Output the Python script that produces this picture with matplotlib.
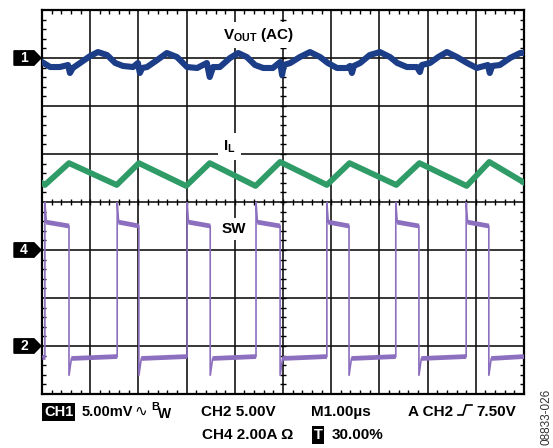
import numpy as np
import matplotlib
matplotlib.use('Agg')
import matplotlib.pyplot as plt
from matplotlib.patches import Polygon
from matplotlib.transforms import blended_transform_factory
from matplotlib.lines import Line2D

# ---------------- scope settings ----------------
ch1_mv_per_div = 5.0     # VOUT (AC)
ch1_offset_div = 3.0
ch2_v_per_div = 5.0      # SW
ch2_offset_div = -3.0
ch4_a_per_div = 2.0      # IL
ch4_offset_div = -1.0
time_per_div_us = 1.0

# ---------------- data ----------------
vout_t = [0.00, 0.17, 0.37, 0.54, 0.58, 0.64, 0.79, 1.00, 1.16, 1.35, 1.52, 1.68, 1.89, 1.99,
          2.03, 2.08, 2.18, 2.39, 2.59, 2.80, 3.01, 3.22, 3.42, 3.48, 3.55, 3.69, 3.90, 4.07,
          4.25, 4.42, 4.59, 4.79, 4.94, 4.98, 5.02, 5.15, 5.35, 5.56, 5.77, 5.93, 6.12, 6.33,
          6.39, 6.43, 6.47, 6.60, 6.80, 7.01, 7.22, 7.37, 7.57, 7.78, 7.84, 7.88, 8.05, 8.22,
          8.40, 8.61, 8.82, 9.02, 9.25, 9.29, 9.34, 9.50, 9.71, 9.92, 10.00]
vout_mv = [-0.42, -0.94, -0.94, -0.73, -1.56, -1.04, -0.52, 0.21, 0.62, 0.31, -0.52, -0.83, -0.94, -0.52,
           -1.56, -1.04, -0.94, -0.21, 0.52, 0.10, -0.94, -1.04, -0.52, -1.98, -0.94, -0.94, 0.00, 0.52,
           0.10, -0.73, -1.04, -1.04, -0.42, -1.77, -0.73, -0.52, 0.10, 0.62, 0.10, -0.52, -1.04, -1.04,
           -0.83, -1.56, -0.83, -0.52, 0.31, 0.62, 0.10, -0.52, -0.94, -0.94, -1.46, -0.73, -0.52, 0.10,
           0.62, 0.10, -0.52, -1.04, -0.73, -1.56, -0.83, -0.73, 0.00, 0.52, 0.52]

il_t = [0.00, 0.06, 0.56, 1.55, 2.01, 2.99, 3.48, 4.43, 4.94, 5.91, 6.38, 7.35, 7.83, 8.81, 9.28, 10.00]
il_a = [2.79, 2.71, 3.62, 2.71, 3.62, 2.67, 3.62, 2.67, 3.67, 2.71, 3.62, 2.71, 3.62, 2.67, 3.67, 2.81]

sw_rise_t = [0.06, 1.56, 3.01, 4.44, 5.91, 7.34, 8.80]
sw_fall_t = [0.56, 2.01, 3.49, 4.94, 6.37, 7.82, 9.27]
sw_high_start_v = 12.9
sw_high_end_v = 12.5
sw_low_start_v = -1.3
sw_low_end_v = -1.1
sw_overshoot_v = 15.0
sw_undershoot_v = -3.1

# ---------------- figure ----------------
W, H = 553, 448
fig = plt.figure(figsize=(W / 100, H / 100), dpi=100)
fig.patch.set_facecolor('white')
L, R, T, B = 42, 524, 10, 394
ax = fig.add_axes([L / W, 1 - B / H, (R - L) / W, (B - T) / H])
ax.set_xlim(0, 10)
ax.set_ylim(-4, 4)

grid_color = '#141414'
for x in range(1, 10):
    ax.axvline(x, color=grid_color, lw=1.2, zorder=1)
for y in range(-3, 4):
    ax.axhline(y, color=grid_color, lw=1.2, zorder=1)
for s in ax.spines.values():
    s.set_linewidth(1.6)
    s.set_color('black')

ax.set_xticks(np.arange(0, 11, 1))
ax.set_yticks(np.arange(-4, 5, 1))
ax.set_xticks(np.arange(0, 10.01, 0.2), minor=True)
ax.set_yticks(np.arange(-4, 4.01, 0.2), minor=True)
ax.tick_params(which='both', direction='in', top=True, right=True, labelbottom=False,
               labelleft=False, color='black')
ax.tick_params(which='major', length=0)
ax.tick_params(which='minor', length=3.2, width=1.0)

# centre-line ticks
cx = np.arange(0.2, 10, 0.2)
cy = np.arange(-3.8, 4, 0.2)
ax.plot(cx, np.zeros_like(cx), linestyle='none', marker='|', markersize=4.5,
        markeredgewidth=1.0, color='black', zorder=2)
ax.plot(np.full_like(cy, 5.0), cy, linestyle='none', marker='_', markersize=4.5,
        markeredgewidth=1.0, color='black', zorder=2)

# ---------------- traces ----------------
vout_y = ch1_offset_div + np.array(vout_mv) / ch1_mv_per_div
il_y = ch4_offset_div + np.array(il_a) / ch4_a_per_div

def sw_div(v):
    return ch2_offset_div + v / ch2_v_per_div

# build SW waveform from edges and levels
sw_x = [0.0]
sw_v = [sw_low_end_v]
high_segs = []
low_segs = [((0.0, sw_rise_t[0]), (sw_low_end_v, sw_low_end_v))]
for i, (r, f) in enumerate(zip(sw_rise_t, sw_fall_t)):
    sw_x += [r, r, r + 0.03, f, f, f + 0.05]
    sw_v += [sw_low_end_v, sw_overshoot_v, sw_high_start_v, sw_high_end_v,
             sw_undershoot_v, sw_low_start_v]
    high_segs.append(((r + 0.03, f), (sw_high_start_v, sw_high_end_v)))
    nxt = sw_rise_t[i + 1] if i + 1 < len(sw_rise_t) else 10.0
    low_segs.append(((f + 0.05, nxt), (sw_low_start_v, sw_low_end_v)))
sw_x.append(10.0)
sw_v.append(sw_low_end_v)

sw_color = '#8c6fbe'
ax.plot(sw_x, sw_div(np.array(sw_v)), color=sw_color, lw=1.2, zorder=4,
        solid_joinstyle='miter')
for xs, vs in high_segs + low_segs:
    ax.plot(xs, sw_div(np.array(vs)), color=sw_color, lw=3.4, zorder=4,
            solid_capstyle='butt')

ax.plot(il_t, il_y, color='#2f9c68', lw=4.2, zorder=5, solid_joinstyle='round')
ax.plot(vout_t, vout_y, color='#1c3d87', lw=4.4, zorder=5, solid_joinstyle='round')

# ---------------- labels ----------------
plt.rcParams['mathtext.fontset'] = 'custom'
plt.rcParams['mathtext.bf'] = 'Liberation Sans:bold'
plt.rcParams['mathtext.rm'] = 'Liberation Sans:bold'
FONT = ['Liberation Sans', 'DejaVu Sans']

def ftext(x, y, s, **kw):
    kw.setdefault('family', FONT)
    kw.setdefault('fontweight', 'bold')
    kw.setdefault('fontsize', 11)
    kw.setdefault('va', 'baseline')
    return fig.text(x / W, 1 - y / H, s, **kw)

box = dict(facecolor='white', edgecolor='none', pad=2.5)
ftext(223, 39, r'V$_{\mathbf{OUT}}$ (AC)', bbox=box, zorder=6)
ftext(223, 150, r'I$_{\mathbf{L}}$', bbox=dict(facecolor='white', edgecolor='none', pad=4), zorder=6)
ftext(222, 233, 'SW', bbox=box, zorder=6)

# channel markers
blend = blended_transform_factory(fig.transFigure, ax.transData)
for num, off in [('1', ch1_offset_div), ('4', ch4_offset_div), ('2', ch2_offset_div)]:
    h = 0.15
    poly = Polygon([(14 / W, off + h), (34 / W, off + h), (41 / W, off),
                    (34 / W, off - h), (14 / W, off - h)], closed=True,
                   facecolor='black', edgecolor='black', transform=blend, clip_on=False)
    fig.patches.append(poly)
    fig.text(24 / W, off, num, transform=blend, color='white', family=FONT,
             fontweight='bold', fontsize=10, ha='center', va='center')

# bottom readout
ftext(44, 416, 'CH1', color='white', fontsize=10.5,
      bbox=dict(facecolor='black', edgecolor='none', pad=1.2))
ftext(82, 416, '5.00mV', fontsize=10.5)
ftext(134, 416, '\u223f', fontweight='normal', fontsize=11)
ftext(151, 410, 'B', fontsize=8)
ftext(158, 418, 'W', fontsize=10)
ftext(201, 416, 'CH2 5.00V')
ftext(311, 416, 'M1.00\u00b5s')
ftext(408, 416, 'A CH2')
ftext(476, 416, '7.50V')
trig = Line2D([458 / W, 463 / W, 466 / W, 472 / W],
              [1 - 415 / H, 1 - 415 / H, 1 - 405 / H, 1 - 405 / H],
              transform=fig.transFigure, color='black', lw=1.2)
fig.lines.append(trig)
ftext(202, 439, 'CH4 2.00A \u03a9')
ftext(314, 439, 'T', color='white', fontsize=10.5,
      bbox=dict(facecolor='black', edgecolor='none', pad=1.2))
ftext(332, 439, '30.00%')
ftext(547, 445, '08833-026', fontweight='normal', fontsize=8.5, color='#333333',
      rotation=90, ha='center', va='bottom')

fig.savefig('out.png', dpi=100, facecolor='white')
